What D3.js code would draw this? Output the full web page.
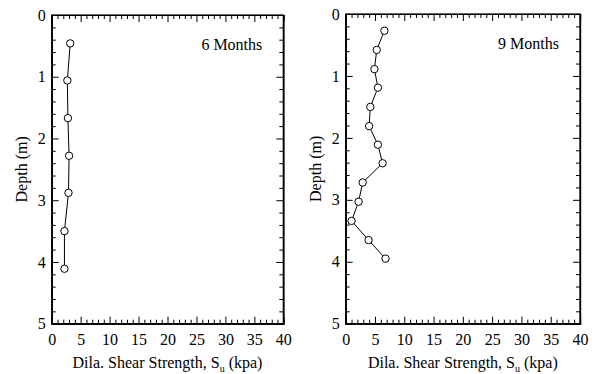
<!DOCTYPE html>
<html>
<head>
<meta charset="utf-8">
<script src="https://cdn.jsdelivr.net/npm/d3@7"></script>
<style>
  body { margin: 0; background: #fff; }
</style>
</head>
<body>
<div id="chart"></div>
<script>
// 6 months profile
var strength6 = [3.2, 2.7, 2.8, 3.0, 2.9, 2.2, 2.2];
var depth6    = [0.46, 1.06, 1.67, 2.28, 2.88, 3.50, 4.11];

// 9 months profile
var strength9 = [6.6, 5.3, 4.9, 5.5, 4.2, 4.0, 5.5, 6.3, 2.9, 2.2, 1.0, 3.9, 6.8];
var depth9    = [0.27, 0.58, 0.89, 1.19, 1.50, 1.81, 2.11, 2.41, 2.72, 3.03, 3.34, 3.65, 3.95];

var xTicks = [0, 5, 10, 15, 20, 25, 30, 35, 40];
var yTicks = [0, 1, 2, 3, 4, 5];

var serif = "'Times New Roman', 'Liberation Serif', 'DejaVu Serif', serif";

var svg = d3.select("#chart").append("svg")
  .attr("width", 600)
  .attr("height", 374)
  .attr("font-family", serif);

function panel(left, right, top, bottom, xs, ys, label) {
  var x = d3.scaleLinear().domain([0, 40]).range([left, right]);
  var y = d3.scaleLinear().domain([0, 5]).range([top, bottom]);
  var g = svg.append("g");
  var fmt = d3.format("d");

  // minor ticks on all four sides, pointing inward
  var xMinor = d3.range(0, 41, 1).filter(function(v) { return v % 5 != 0; });
  var yMinor = d3.range(0, 5.01, 0.2).filter(function(v) { return Math.abs(v - Math.round(v)) > 0.01; });

  g.append("g")
    .attr("transform", "translate(0," + bottom + ")")
    .call(d3.axisBottom(x).tickValues(xMinor).tickSize(-4).tickFormat(""));
  g.append("g")
    .attr("transform", "translate(0," + top + ")")
    .call(d3.axisTop(x).tickValues(xMinor).tickSize(-4).tickFormat(""));
  g.append("g")
    .attr("transform", "translate(" + left + ",0)")
    .call(d3.axisLeft(y).tickValues(yMinor).tickSize(-4).tickFormat(""));
  g.append("g")
    .attr("transform", "translate(" + right + ",0)")
    .call(d3.axisRight(y).tickValues(yMinor).tickSize(-4).tickFormat(""));

  // major ticks
  g.append("g")
    .attr("transform", "translate(0," + bottom + ")")
    .call(d3.axisBottom(x).tickValues(xTicks).tickSize(-7).tickPadding(10).tickFormat(fmt));
  g.append("g")
    .attr("transform", "translate(0," + top + ")")
    .call(d3.axisTop(x).tickValues(xTicks).tickSize(-7).tickFormat(""));
  g.append("g")
    .attr("transform", "translate(" + left + ",0)")
    .call(d3.axisLeft(y).tickValues(yTicks).tickSize(-7).tickPadding(6).tickFormat(fmt));
  g.append("g")
    .attr("transform", "translate(" + right + ",0)")
    .call(d3.axisRight(y).tickValues(yTicks).tickSize(-7).tickFormat(""));

  g.selectAll(".domain").attr("stroke", "#000").attr("stroke-width", 1.2);
  g.selectAll(".tick line").attr("stroke", "#000");
  g.selectAll("g").attr("font-family", serif);
  g.selectAll(".tick text").attr("font-size", 16).attr("fill", "#000");

  // frame
  g.append("rect")
    .attr("x", left).attr("y", top)
    .attr("width", right - left).attr("height", bottom - top)
    .attr("fill", "none").attr("stroke", "#000").attr("stroke-width", 1.2);

  var pts = xs.map(function(v, i) { return [v, ys[i]]; });

  var line = d3.line()
    .x(function(d) { return x(d[0]); })
    .y(function(d) { return y(d[1]); });

  g.append("path")
    .datum(pts)
    .attr("fill", "none")
    .attr("stroke", "#000")
    .attr("stroke-width", 1)
    .attr("d", line);

  g.selectAll(".pt")
    .data(pts)
    .enter().append("circle")
    .attr("class", "pt")
    .attr("cx", function(d) { return x(d[0]); })
    .attr("cy", function(d) { return y(d[1]); })
    .attr("r", 3.7)
    .attr("fill", "#fff")
    .attr("stroke", "#000")
    .attr("stroke-width", 1);

  g.append("text")
    .attr("x", right - 21)
    .attr("y", top + 35)
    .attr("text-anchor", "end")
    .attr("font-size", 16)
    .text(label);

  var t = g.append("text")
    .attr("x", (left + right) / 2)
    .attr("y", 368)
    .attr("text-anchor", "middle")
    .attr("font-size", 16);
  t.append("tspan").text("Dila. Shear Strength, S");
  t.append("tspan").attr("font-size", 10).attr("dy", 4).text("u");
  t.append("tspan").attr("dy", -4).text(" (kpa)");

  g.append("text")
    .attr("transform", "translate(" + (left - 25) + "," + ((top + bottom) / 2) + ") rotate(-90)")
    .attr("text-anchor", "middle")
    .attr("font-size", 16)
    .text("Depth (m)");
}

panel(51.7, 283.3, 15, 323.7, strength6, depth6, "6 Months");
panel(345.7, 580, 14, 323.7, strength9, depth9, "9 Months");
</script>
</body>
</html>
